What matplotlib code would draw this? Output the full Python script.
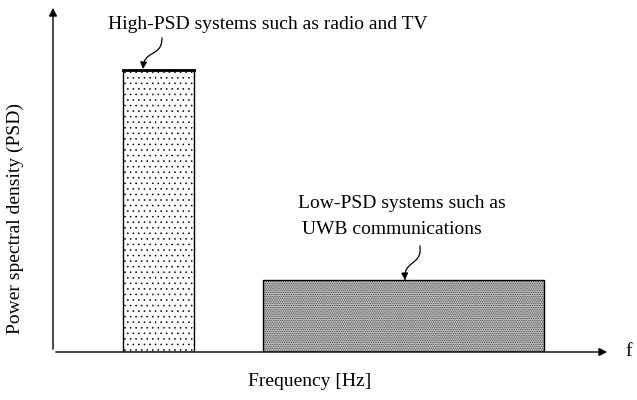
import numpy as np
import matplotlib
matplotlib.use("Agg")
import matplotlib.pyplot as plt

plt.rcParams['font.family'] = ['Liberation Serif', 'DejaVu Serif']
plt.rcParams['hatch.linewidth'] = 0.4

# bars: left edge, width, height (arbitrary frequency / PSD units)
systems = ["High-PSD", "Low-PSD"]
lefts = [1.26, 3.77]
widths = [1.27, 5.05]
heights = [8.13, 2.07]
hatches = ['...', '.........']
hatch_colors = ['black', '#333333']
face_colors = ['white', '#b8b8b8']

fig = plt.figure(figsize=(6.37, 4.0), dpi=100)
ax = fig.add_axes([53 / 637, 48 / 400, 557 / 637, 347 / 400])
ax.set_xlim(0, 10)
ax.set_ylim(0, 10)

for l, w, h, ht, hc, fc in zip(lefts, widths, heights, hatches, hatch_colors, face_colors):
    ax.bar(l, h, width=w, align='edge', color=fc, edgecolor=hc,
           hatch=ht, linewidth=0)
    ax.bar(l, h, width=w, align='edge', fill=False, edgecolor='black',
           linewidth=1.0)
# heavier top on tall bar
ax.plot([lefts[0], lefts[0] + widths[0]], [heights[0], heights[0]], color='black', lw=2)

for s in ax.spines.values():
    s.set_visible(False)
ax.set_xticks([])
ax.set_yticks([])

# axes with arrows
ax.annotate('', xy=(1.0, 0), xytext=(0, 0), xycoords='axes fraction',
            arrowprops=dict(arrowstyle='-|>', color='black', lw=1.0, mutation_scale=12),
            annotation_clip=False)
ax.annotate('', xy=(0, 1.0), xytext=(0, 0), xycoords='axes fraction',
            arrowprops=dict(arrowstyle='-|>', color='black', lw=1.0, mutation_scale=12),
            annotation_clip=False)
ax.text(10.27, 0.0, 'f', fontsize=14, ha='left', va='center')

ax.set_xlabel('Frequency [Hz]', fontsize=14)
ax.set_ylabel('Power spectral density (PSD)', fontsize=14)
ax.xaxis.set_label_coords((310 - 53) / 557, -(381 - 352) / 347)
ax.yaxis.set_label_coords(-(38 / 557), (352 - 218) / 347)
ax.xaxis.label.set_va('center')
ax.yaxis.label.set_va('center')

px = 10 / 557  # data units per pixel in x
py = 10 / 347  # in y


def squiggle(x0, y0, x1, y1, amp=3.0):
    # x,y in pixel offsets relative to axes origin (y up)
    t = np.linspace(0, 1, 60)
    dx, dy = x1 - x0, y1 - y0
    n = np.hypot(dx, dy)
    nx, ny = -dy / n, dx / n
    off = amp * np.sin(2 * np.pi * t)
    xs = (x0 + dx * t + nx * off) * px
    ys = (y0 + dy * t + ny * off) * py
    ax.plot(xs[:-4], ys[:-4], color='black', lw=0.9)
    ax.annotate('', xy=(xs[-1], ys[-1]), xytext=(xs[-5], ys[-5]),
                arrowprops=dict(arrowstyle='-|>', color='black', lw=0.9, mutation_scale=10))


squiggle(162 - 53, 352 - 38, 143 - 53, 352 - 69)
squiggle(420 - 53, 352 - 246, 405 - 53, 352 - 280)

ax.text((268 - 53) * px, (352 - 25) * py, 'High-PSD systems such as radio and TV',
        fontsize=14, ha='center', va='center')
ax.text((298 - 53) * px, (352 - 204) * py, 'Low-PSD systems such as',
        fontsize=14, ha='left', va='center')
ax.text((302 - 53) * px, (352 - 230) * py, 'UWB communications',
        fontsize=14, ha='left', va='center')

fig.savefig('out.png', dpi=100)
